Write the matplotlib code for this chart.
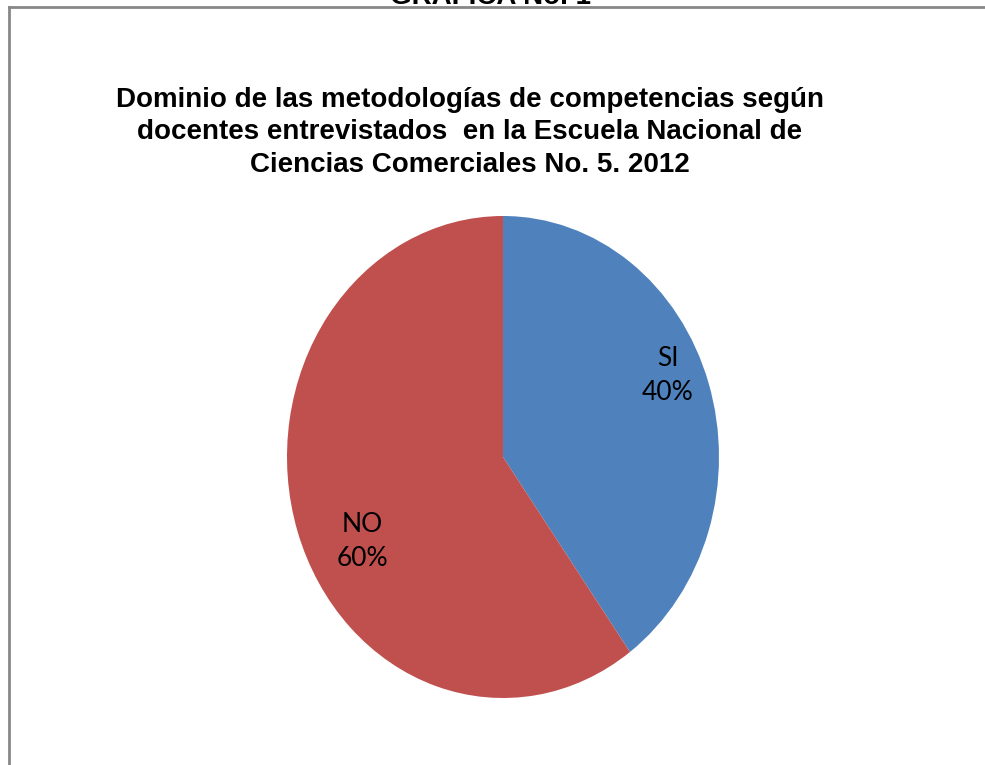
import matplotlib
matplotlib.use("Agg")
import matplotlib.pyplot as plt
from matplotlib.lines import Line2D

labels = ["SI", "NO"]
values = [40, 60]
colors = ["#4F81BD", "#C0504D"]
title = ("Dominio de las metodologías de competencias según\n"
         "docentes entrevistados  en la Escuela Nacional de\n"
         "Ciencias Comerciales No. 5. 2012")
header = "GRAFICA No. 1"

fig = plt.figure(figsize=(9.85, 7.65), dpi=100)
W, H = 985, 765

# frame of the embedded chart (only top and left visible)
fig.add_artist(Line2D([9 / W, 1], [1 - 7 / H, 1 - 7 / H], color="#888888", lw=2))
fig.add_artist(Line2D([9 / W, 9 / W], [0, 1 - 7 / H], color="#888888", lw=2))

# header cut off at the top of the image (as in the original)
fig.text(490 / W, 1 - 4 / H, header, ha="center", va="baseline",
         fontsize=20, fontweight="bold", family="Liberation Sans")

fig.text(470 / W, 1 - 87 / H, title, ha="center", va="top", fontsize=20,
         fontweight="bold", family="Liberation Sans", linespacing=1.32)

# pie is slightly squashed horizontally
ax = fig.add_axes([287 / W, 1 - 698 / H, 432 / W, 482 / H])
wedges, _ = ax.pie(values, colors=colors, startangle=90, counterclock=False,
                   wedgeprops=dict(linewidth=0))
ax.set_aspect("auto")
ax.set_xlim(-1, 1)
ax.set_ylim(-1, 1)
ax.axis("off")

label_pos = [(0.764, 0.34), (-0.653, -0.35)]
for lab, val, (lx, ly) in zip(labels, values, label_pos):
    ax.text(lx, ly, f"{lab}\n{val}%", ha="center", va="center",
            fontsize=19, family="Lato", linespacing=1.45)

fig.savefig("out.png", dpi=100, facecolor="white")
